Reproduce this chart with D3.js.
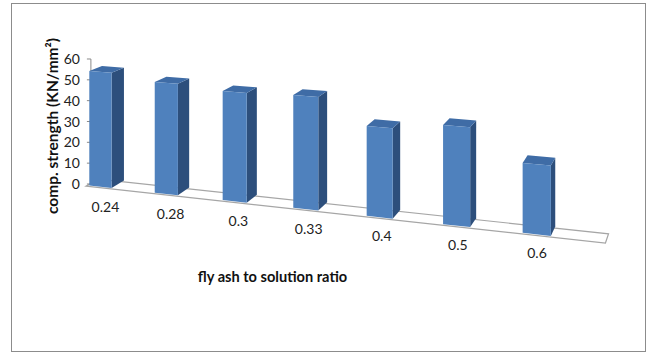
<!DOCTYPE html>
<html>
<head>
<meta charset="utf-8">
<script src="https://cdn.jsdelivr.net/npm/d3@7"></script>
<style>
  html, body { margin: 0; padding: 0; background: #fff; }
  svg { display: block; }
</style>
</head>
<body>
<script>
// ---- data ----
const categories = ["0.24", "0.28", "0.3", "0.33", "0.4", "0.5", "0.6"];
const strength = [54.7, 51.9, 50.2, 50.9, 39.8, 43.0, 29.7];
const valueTicks = [0, 10, 20, 30, 40, 50, 60];
const yTitle = "comp. strength (KN/mm²)";
const xTitle = "fly ash to solution ratio";

// ---- page ----
const W = 647, H = 353;
const svg = d3.select("body").append("svg").attr("width", W).attr("height", H);
const font = "Lato, 'Open Sans', sans-serif";

// ---- perspective camera (vertical image plane, so verticals stay vertical) ----
const F = 1264, cx = 323, horizonY = -194.5, camH = 380;
const ang = 18.8 * Math.PI / 180, ca = Math.cos(ang), sa = Math.sin(ang);
const origin = { x: -233.7, z: 1264 };
function project(X, Y, Z) {
  const px = origin.x + X * ca + Z * sa;
  const pz = origin.z - X * sa + Z * ca;
  return [cx + F * px / pz, horizonY + F * (camH - Y) / pz];
}

// ---- world scales ----
const step = 72.4, barW = 25, barD = 26;
const x = d3.scaleBand()
  .domain(categories)
  .range([0, (categories.length - 1) * step + barW])
  .paddingInner(1 - barW / step)
  .paddingOuter(0);
const y = d3.scaleLinear().domain([0, 60]).range([0, 125.5]);

const floorX0 = -2, floorX1 = 507, floorZ0 = -3, floorZ1 = 22;
const axisX = -1, axisZ = 5;

const poly = pts => "M" + pts.map(p => p.join(",")).join("L") + "Z";

// ---- outer frame ----
svg.append("rect")
  .attr("x", 11.5).attr("y", 3.5)
  .attr("width", W - 13).attr("height", H - 5)
  .attr("fill", "none").attr("stroke", "#8c8c8c").attr("stroke-width", 1);

// ---- floor ----
svg.append("path")
  .attr("d", poly([
    project(floorX0, 0, floorZ0), project(floorX1, 0, floorZ0),
    project(floorX1, 0, floorZ1), project(floorX0, 0, floorZ1)
  ]))
  .attr("fill", "#fff").attr("stroke", "#a6a6a6").attr("stroke-width", 1.2);

// ---- value axis ----
const axisG = svg.append("g");
const a0 = project(axisX, y(0), axisZ), a1 = project(axisX, y(60), axisZ);
axisG.append("line")
  .attr("x1", a0[0]).attr("y1", a0[1]).attr("x2", a1[0]).attr("y2", a1[1])
  .attr("stroke", "#8a8a8a").attr("stroke-width", 1);
valueTicks.forEach(v => {
  const p = project(axisX, y(v), axisZ);
  axisG.append("line")
    .attr("x1", p[0] - 4).attr("y1", p[1]).attr("x2", p[0]).attr("y2", p[1])
    .attr("stroke", "#8a8a8a");
  axisG.append("text")
    .attr("x", p[0] - 11).attr("y", p[1]).attr("dy", "0.36em")
    .attr("text-anchor", "end")
    .attr("font-family", font).attr("font-size", 14)
    .attr("fill", "#222").text(v);
});

// ---- bars (left to right: nearer bars are drawn last) ----
const colors = { front: "#4f81bd", side: "#2d4f7c", top: "#3f6ca6" };
const barsG = svg.append("g");
categories.forEach((c, i) => {
  const x0 = x(c), x1 = x0 + x.bandwidth(), h = y(strength[i]);
  const g = barsG.append("g");
  // right side face
  g.append("path").attr("d", poly([
    project(x1, 0, 0), project(x1, 0, barD), project(x1, h, barD), project(x1, h, 0)
  ])).attr("fill", colors.side);
  // top face
  g.append("path").attr("d", poly([
    project(x0, h, 0), project(x1, h, 0), project(x1, h, barD), project(x0, h, barD)
  ])).attr("fill", colors.top);
  // front face
  g.append("path").attr("d", poly([
    project(x0, 0, 0), project(x1, 0, 0), project(x1, h, 0), project(x0, h, 0)
  ])).attr("fill", colors.front);
});

// ---- category labels, anchored on the floor just in front of each bar ----
categories.forEach(c => {
  const p = project(x(c) + x.bandwidth() / 2 - 2, 0, 14);
  svg.append("text")
    .attr("x", p[0]).attr("y", p[1] + 24).attr("dy", "0.36em")
    .attr("text-anchor", "middle")
    .attr("font-family", font).attr("font-size", 14)
    .attr("fill", "#222").text(c);
});

// ---- titles ----
svg.append("text")
  .attr("transform", "translate(52,126) rotate(-90)")
  .attr("text-anchor", "middle").attr("dy", "0.36em")
  .attr("font-family", font).attr("font-weight", "bold")
  .attr("font-size", 15.5).attr("fill", "#111").text(yTitle);

svg.append("text")
  .attr("x", 272.5).attr("y", 277).attr("dy", "0.36em")
  .attr("text-anchor", "middle")
  .attr("font-family", font).attr("font-weight", "bold")
  .attr("font-size", 14.6).attr("fill", "#111").text(xTitle);
</script>
</body>
</html>
